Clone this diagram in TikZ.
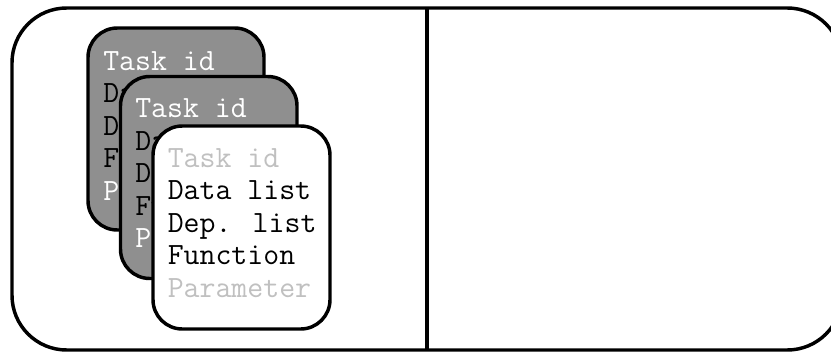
\documentclass[tikz,border=0pt]{standalone}
\usepackage{fontspec}
\definecolor{cardgray}{RGB}{143,143,143}
\definecolor{dimtext}{RGB}{192,192,192}
\tikzset{
  card/.style={draw=black, line width=2.6pt, rounded corners=22pt},
  cardtext/.style={anchor=base west, inner sep=0pt, font=\ttfamily\fontsize{23.2}{26}\selectfont},
  frame/.style={draw=black, line width=2.6pt, rounded corners=41pt},
  divider/.style={draw=black, line width=2.4pt}
}
\begin{document}
\begin{tikzpicture}[x=0.75pt,y=-0.75pt]
\useasboundingbox (0,0) rectangle (831,353);
\clip (0,0) rectangle (831,353);
\path[frame] (12,8) rectangle (842,350);
\coordinate (dtop) at (427,8);
\coordinate (dbot) at (427,350);
\path[divider] (dtop) -- (dbot);
% card 1
\path[card, fill=cardgray] (88,28) rectangle (264,230);
\node[cardtext, text=white] (a1) at (103,70) {Task id};
\node[cardtext, text=black] (a2) at (103,102.5) {Data list};
\node[cardtext, text=black] (a3) at (103,135) {Dep. list};
\node[cardtext, text=black] (a4) at (103,167.5) {Function};
\node[cardtext, text=white] (a5) at (103,200) {Parameter};
% card 2
\path[card, fill=cardgray] (120.5,76.5) rectangle (297,278.5);
\node[cardtext, text=white] (b1) at (135,117.5) {Task id};
\node[cardtext, text=black] (b2) at (135,150) {Data list};
\node[cardtext, text=black] (b3) at (135,182.5) {Dep. list};
\node[cardtext, text=black] (b4) at (135,215) {Function};
\node[cardtext, text=white] (b5) at (135,247.5) {Parameter};
% card 3
\path[card, fill=white] (153,126) rectangle (330,329);
\node[cardtext, text=dimtext] (c1) at (167.5,167) {Task id};
\node[cardtext, text=black] (c2) at (167.5,199.5) {Data list};
\node[cardtext, text=black] (c3) at (167.5,232) {Dep. list};
\node[cardtext, text=black] (c4) at (167.5,264.5) {Function};
\node[cardtext, text=dimtext] (c5) at (167.5,297) {Parameter};
\end{tikzpicture}
\end{document}
